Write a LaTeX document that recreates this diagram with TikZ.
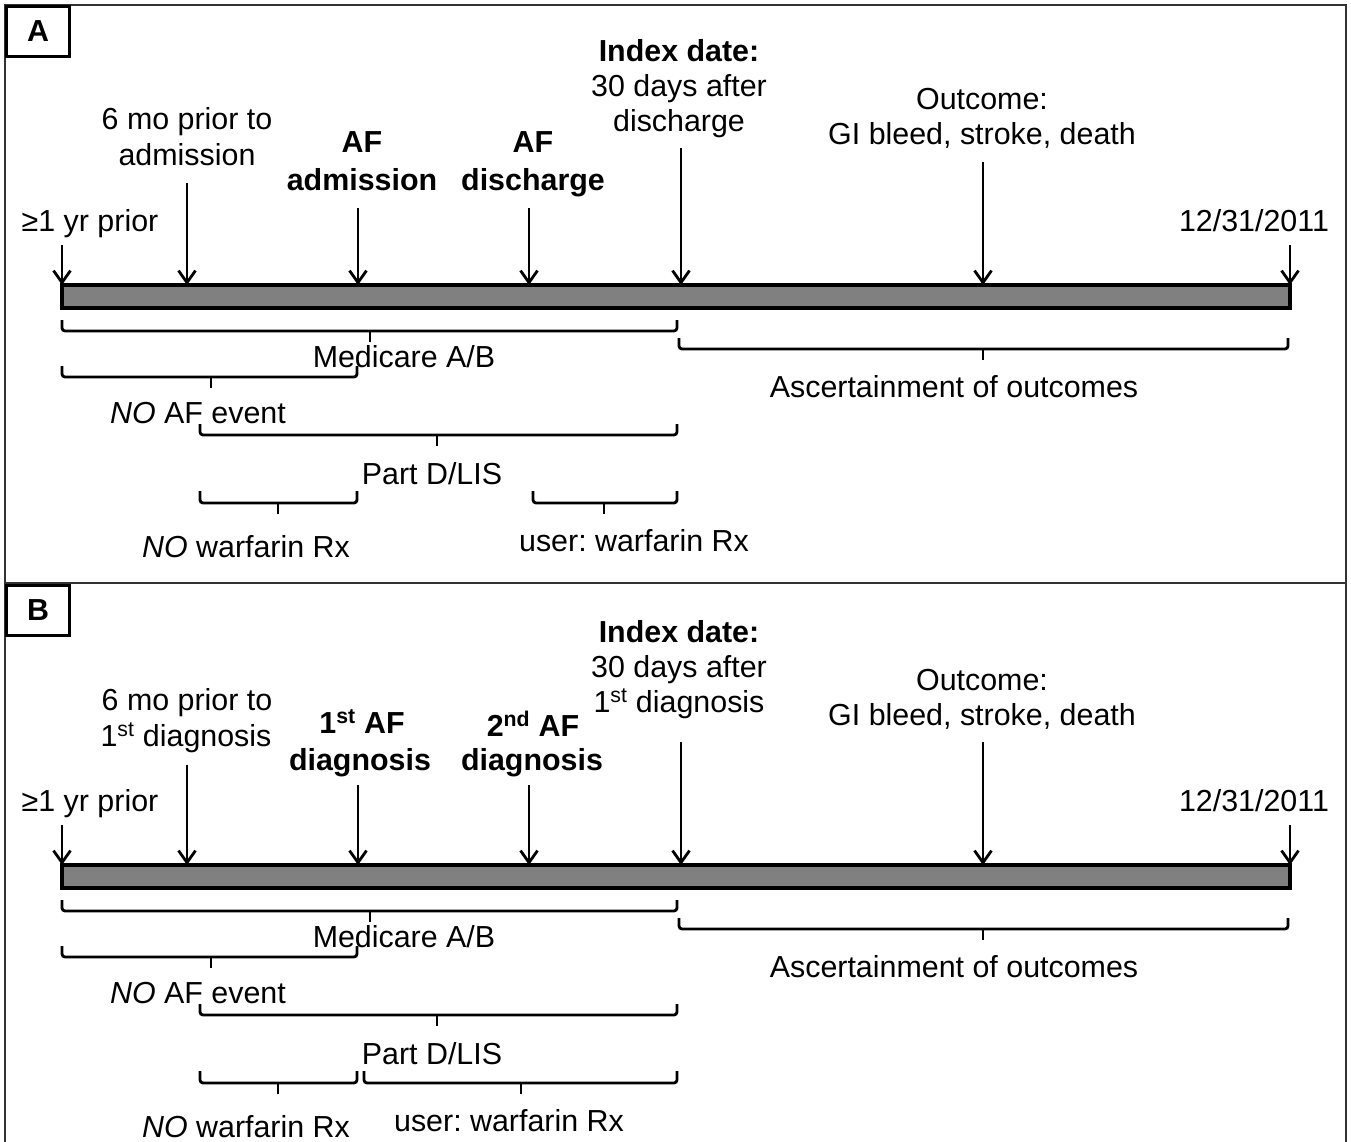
\documentclass[tikz,border=0pt]{standalone}
\usepackage{fontspec}
\setmainfont{Liberation Sans}
\usetikzlibrary{arrows.meta}
\definecolor{bargray}{RGB}{128,128,128}
\definecolor{framegray}{RGB}{50,50,50}
\tikzset{
  lbl/.style={font=\fontsize{30.4}{37}\selectfont\frenchspacing, inner sep=0pt, anchor=base},
  blbl/.style={lbl, font=\fontsize{30.4}{37}\selectfont\bfseries\frenchspacing},
  tagbox/.style={draw=black, line width=3pt, minimum width=63pt, minimum height=50pt, inner sep=0pt, font=\fontsize{30.4}{37}\selectfont\bfseries, anchor=north west},
  barbox/.style={draw=black, line width=3.2pt, fill=bargray},
  pointer/.style={line width=2.8pt, -{Straight Barb[length=12pt,width=17pt]}},
  brk/.style={line width=2.8pt, rounded corners=3pt},
  brktick/.style={line width=2.8pt},
}
% bracket: #1 x1, #2 x2, #3 xm, #4 y of horizontal, #5 y of ends' top
\newcommand\mybracket[5]{%
  \draw[brk] (#1,#5) -- (#1,#4) -- (#2,#4) -- (#2,#5);
  \draw[brktick] (#3,#4) -- (#3,#4+11);
}
% common timeline parts of a panel, #1 = prefix of names
\newcommand\timeline[1]{%
  \draw[barbox] (62,285) rectangle (1290,308);
  \coordinate (#1b0) at (62,285);
  \coordinate (#1b1) at (187,285);
  \coordinate (#1b2) at (358,285);
  \coordinate (#1b3) at (529,285);
  \coordinate (#1b4) at (681,285);
  \coordinate (#1b5) at (983,285);
  \coordinate (#1b6) at (1290,285);
  \node[lbl] (#1start) at (90,231) {≥1 yr prior};
  \node[lbl] (#1end) at (1254,231) {12/31/2011};
  \coordinate (#1t0) at (62,245);
  \coordinate (#1t6) at (1290,245);
  \draw[pointer] (#1t0) -- (#1b0);
  \draw[pointer] (#1t6) -- (#1b6);
  \node[blbl] (#1idx) at (679,62) {Index date:};
  \node[lbl] (#1idxb) at (679,97) {30 days after};
  \node[lbl] (#1out) at (982,110) {Outcome:};
  \node[lbl] (#1outb) at (982,145) {GI bleed, stroke, death};
  % brackets
  \mybracket{62}{677}{370}{331}{320}
  \node[lbl] (#1med) at (404,367) {Medicare A/B};
  \mybracket{679}{1288}{983}{349}{338}
  \node[lbl] (#1asc) at (954,397) {Ascertainment of outcomes};
  \mybracket{62}{357}{211}{377}{366}
  \node[lbl] (#1noaf) at (198,423) {\textit{NO} AF event};
  \mybracket{200}{677}{437}{435}{424}
  \node[lbl] (#1pd) at (432,484) {Part D/LIS};
  \mybracket{200}{357}{278}{503}{491}
  \node[lbl] (#1now) at (246,557) {\textit{NO} warfarin Rx};
}
\begin{document}
\begin{tikzpicture}[x=1pt,y=-1pt]
\useasboundingbox (0,0) rectangle (1351,1142);
\fill[white] (0,0) rectangle (1351,1142);
% frame
\draw[framegray, line width=2pt] (5,1160) -- (5,5) -- (1346,5) -- (1346,1160);
\draw[framegray, line width=2pt] (5,583) -- (1346,583);
% ---------------- Panel A
\node[tagbox] (tagA) at (5,5) {A};
\timeline{a}
\node[lbl] (a6m) at (187,130) {6 mo prior to};
\node[lbl] (a6mb) at (187,166) {admission};
\node[blbl] (aadm) at (362,153) {AF};
\node[blbl] (aadmb) at (362,190) {admission};
\node[blbl] (adis) at (533,153) {AF};
\node[blbl] (adisb) at (533,190) {discharge};
\node[lbl] (aidxc) at (679,132) {discharge};
\coordinate (at1) at (187,183);
\coordinate (at2) at (358,208);
\coordinate (at3) at (529,208);
\coordinate (at4) at (681,148);
\coordinate (at5) at (983,162);
\draw[pointer] (at1) -- (ab1);
\draw[pointer] (at2) -- (ab2);
\draw[pointer] (at3) -- (ab3);
\draw[pointer] (at4) -- (ab4);
\draw[pointer] (at5) -- (ab5);
\mybracket{533}{677}{604}{503}{491}
\node[lbl] (ausr) at (634,551) {user: warfarin Rx};
% ---------------- Panel B
\begin{scope}[yshift=-580pt]
\node[tagbox] (tagB) at (5,4) {B};
\timeline{b}
\node[lbl] (b6m) at (187,130) {6 mo prior to};
\node[lbl] (b6mb) at (186,166) {1\textsuperscript{st} diagnosis};
\node[blbl] (bfirst) at (362,153) {1\textsuperscript{st} AF};
\node[blbl] (bfirstb) at (360,190) {diagnosis};
\node[blbl] (bsec) at (533,156) {2\textsuperscript{nd} AF};
\node[blbl] (bsecb) at (532,190) {diagnosis};
\node[lbl] (bidxc) at (679,132) {1\textsuperscript{st} diagnosis};
\coordinate (bt1) at (187,185);
\coordinate (bt2) at (358,205);
\coordinate (bt3) at (529,205);
\coordinate (bt4) at (681,162);
\coordinate (bt5) at (983,162);
\draw[pointer] (bt1) -- (bb1);
\draw[pointer] (bt2) -- (bb2);
\draw[pointer] (bt3) -- (bb3);
\draw[pointer] (bt4) -- (bb4);
\draw[pointer] (bt5) -- (bb5);
\mybracket{364}{677}{521}{503}{491}
\node[lbl] (busr) at (509,551) {user: warfarin Rx};
\end{scope}
\end{tikzpicture}
\end{document}
